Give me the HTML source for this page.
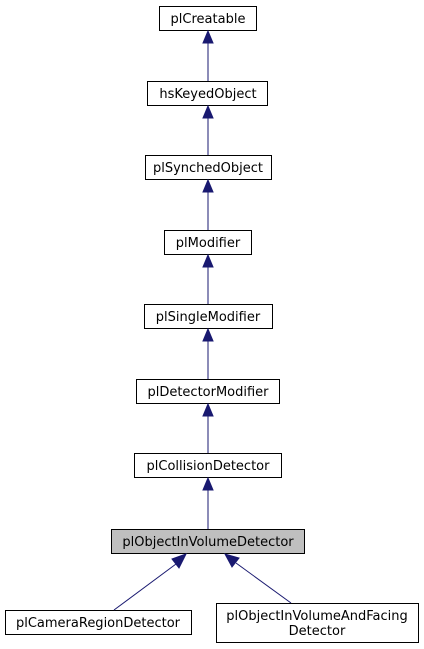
<!DOCTYPE html>
<html><head><style>body{margin:0;background:#fff}svg{display:block}text{font-family:"DejaVu Sans",sans-serif;font-size:13px}</style></head><body>
<svg width="424" height="649" viewBox="0 0 424 649" xmlns="http://www.w3.org/2000/svg">
<g fill="#fff" stroke="#000" stroke-width="1">
<rect x="159.5" y="6.5" width="97" height="24"/>
<rect x="147.5" y="81.5" width="120" height="24"/>
<rect x="145.5" y="155.5" width="126" height="24"/>
<rect x="164.5" y="230.5" width="87" height="24"/>
<rect x="144.5" y="304.5" width="128" height="24"/>
<rect x="136.5" y="379.5" width="143" height="24"/>
<rect x="134.5" y="453.5" width="147" height="24"/>
<rect x="111.5" y="529.5" width="193" height="24" fill="#bfbfbf"/>
<rect x="5.5" y="610.5" width="186" height="24"/>
<rect x="216.5" y="603.5" width="202" height="39"/>
</g>
<g stroke="#191970" stroke-width="1" fill="#191970">
<line x1="208" y1="81" x2="208" y2="42"/><polygon points="208,31 203,43 213,43"/>
<line x1="208" y1="155" x2="208" y2="117"/><polygon points="208,106 203,118 213,118"/>
<line x1="208" y1="230" x2="208" y2="191"/><polygon points="208,180 203,192 213,192"/>
<line x1="208" y1="304" x2="208" y2="266"/><polygon points="208,255 203,267 213,267"/>
<line x1="208" y1="379" x2="208" y2="340"/><polygon points="208,329 203,341 213,341"/>
<line x1="208" y1="453" x2="208" y2="415"/><polygon points="208,404 203,416 213,416"/>
<line x1="208" y1="529" x2="208" y2="489"/><polygon points="208,478 203,490 213,490"/>
<line x1="114" y1="610" x2="176" y2="564"/><polygon points="186,554 172,559 179,568"/>
<line x1="291" y1="603" x2="236" y2="563"/><polygon points="225,554 232,567 239,558"/>
</g>
<g fill="#000" text-anchor="middle">
<text x="208" y="23">plCreatable</text>
<text x="208" y="98">hsKeyedObject</text>
<text x="208" y="172">plSynchedObject</text>
<text x="208" y="247">plModifier</text>
<text x="208" y="321">plSingleModifier</text>
<text x="208" y="396">plDetectorModifier</text>
<text x="208" y="470">plCollisionDetector</text>
<text x="208" y="546">plObjectInVolumeDetector</text>
<text x="98" y="627">plCameraRegionDetector</text>
<text x="317" y="620">plObjectInVolumeAndFacing</text>
<text x="317" y="635">Detector</text>
</g>
</svg>
</body></html>
